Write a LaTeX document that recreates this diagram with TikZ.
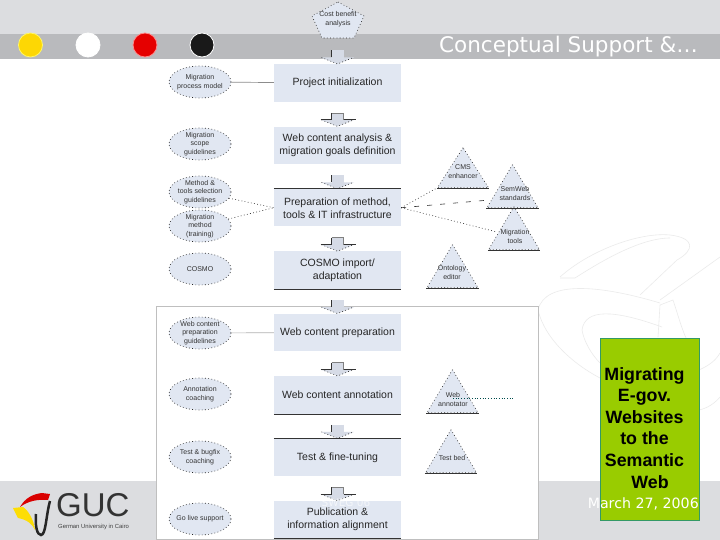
\documentclass[tikz,border=0pt]{standalone}
\usepackage{fontspec}
\setmainfont{Liberation Sans}
\newfontfamily\slidefont{DejaVu Sans}
\usetikzlibrary{arrows.meta,positioning,calc,shapes.geometric}
\definecolor{stepfill}{HTML}{E1E7F2}
\definecolor{footgray}{HTML}{DCDDE0}
\definecolor{bargray}{HTML}{B9BABD}
\definecolor{mossgreen}{HTML}{99CC00}
\definecolor{mossedge}{HTML}{339966}
\tikzset{
  stepbox/.style={fill=stepfill, align=center, minimum width=127pt, minimum height=37.5pt, inner sep=0pt, font=\fontsize{10.5}{13}\selectfont, text=black!85},
  dotborder/.style={draw=black!85, dash pattern=on .8pt off 2.4pt, line width=.6pt},
  guidebox/.style={ellipse, dotborder, fill=stepfill, align=center, minimum width=62pt, minimum height=32pt, inner sep=-6pt, font=\fontsize{7}{8.7}\selectfont, text=black!80},
  toolbox/.style={isosceles triangle, isosceles triangle stretches, shape border rotate=90, dotborder, fill=stepfill, minimum width=51pt, minimum height=43pt, inner sep=0pt, anchor=lower side},
  toolname/.style={align=center, inner sep=0pt, font=\fontsize{7}{9}\selectfont, text=black!80},
  flowarrow/.style={-{Triangle[length=6.5pt,width=33pt]}, line width=12pt, draw=stepfill!95!black},
  edgeline/.style={black!80, line width=.8pt},
  plainlink/.style={black!45, line width=.7pt},
  dotlink/.style={black!85, dash pattern=on .8pt off 2.4pt, line width=.6pt},
  dashlink/.style={black!80, dash pattern=on 5pt off 8pt, line width=.6pt},
  sundot/.style={circle, minimum size=24pt, inner sep=0pt, line width=.8pt},
  markline/.style={black!8, line width=.6pt}
}
\begin{document}
\begin{tikzpicture}[x=1pt,y=-1pt,node distance=24.5pt and 12pt]
\useasboundingbox (0,0) rectangle (720,540);
% slide background
\fill[white] (0,0) rectangle (720,540);
\draw[markline] (560,277) .. controls (590,250) and (640,232) .. (670,235) .. controls (695,238) and (695,250) .. (677,260) -- (640,295);
\draw[markline] (560,278) -- (575,278) .. controls (600,262) and (640,238) .. (670,238);
\draw[markline] (538,310) .. controls (545,280) and (600,285) .. (660,303);
\draw[markline] (538,310) .. controls (545,340) and (575,365) .. (600,378);
\draw[markline] (582,330) .. controls (585,308) and (615,310) .. (662,327);
\draw[markline] (582,330) .. controls (584,342) and (592,355) .. (600,363);
\draw[markline] (660,305) -- (658,337);
\draw[markline] (660,305) -- (673,300) .. controls (678,315) and (682,330) .. (687,340);
\draw[markline] (720,257) -- (660,300);
\draw[markline] (699,370) .. controls (710,365) and (716,360) .. (720,353);
\draw[markline] (699,410) .. controls (708,408) and (715,403) .. (720,397);
\fill[footgray] (0,0) rectangle (720,34);
\fill[bargray] (0,34) rectangle (720,59);
\fill[footgray] (0,481) rectangle (720,540);
\node[sundot, fill=yellow!75!orange, draw=yellow!60] (dota) at (30.5,45) {};
\node[sundot, fill=white, draw=white] (dotb) at (88,45) {};
\node[sundot, fill=red!90!black, draw=red!45] (dotc) at (145,45) {};
\node[sundot, fill=black!90, draw=white] (dotd) at (202,45) {};
\node[anchor=east, text=white, inner sep=0pt, font=\slidefont\fontsize{21.5}{24}\selectfont] (title) at (698,47) {Conceptual Support \&\dots};
% logo
\node[anchor=west, inner sep=0pt, font=\fontsize{33}{33}\selectfont, text=black!80] (guc) at (56,505) {GUC};
\node[anchor=west, inner sep=0pt, font=\fontsize{5.9}{7}\selectfont, text=black!75] (gucname) at (58,527) {German University in Cairo};
\fill[red!85!black] (20,507) .. controls (25,498) and (33,494) .. (42,493) -- (50,494) -- (48,500) .. controls (38,499) and (28,501) .. (20,507) -- cycle;
\fill[yellow!80!orange] (13,508) -- (23,507) .. controls (28,510) and (34,520) .. (35,530) .. controls (32,524) and (28,520) .. (18,518) -- cycle;
\draw[black!85, line width=2.5pt] (36,514) .. controls (35,526) and (37,535) .. (41,535) .. controls (46,535) and (46,515) .. (50,501);
% migration frame
\draw[black!25, fill=white, line width=.7pt] (156,306) rectangle (538,539);
% steps
\node[stepbox, anchor=north] (init) at (337.5,64) {Project initialization};
\node[stepbox, below=of init] (analysis) {Web content analysis \&\\migration goals definition};
\node[stepbox, below=of analysis] (prep) {Preparation of method,\\tools \& IT infrastructure};
\node[stepbox, below=of prep] (cosmo) {COSMO import/\\adaptation};
\node[stepbox, below=of cosmo] (webprep) {Web content preparation};
\node[stepbox, below=of webprep] (annot) {Web content annotation};
\node[stepbox, below=of annot] (fine) {Test \& fine-tuning};
\node[stepbox, below=of fine] (publish) {Publication \&\\information alignment};
\draw[dotborder, fill=stepfill] (338,2) -- (364,16) -- (354,38) -- (322,38) -- (312,16) -- cycle;
\node[align=center, inner sep=0pt, font=\fontsize{7}{8.5}\selectfont, text=black!80] (cost) at (338,19) {Cost benefit\\analysis};
% guidance
\node[guidebox] (procmodel) at (200,82) {Migration\\process model};
\node[guidebox] (scope) at (200,144) {Migration\\scope\\guidelines};
\node[guidebox] (select) at (200,192) {Method \&\\tools selection\\guidelines};
\node[guidebox] (training) at (200,226) {Migration\\method\\(training)};
\node[guidebox] (cosmoref) at (200,269) {COSMO};
\node[guidebox] (prepguide) at (200,333) {Web content\\preparation\\guidelines};
\node[guidebox] (coaching) at (200,394) {Annotation\\coaching};
\node[guidebox] (testcoach) at (200,457) {Test \& bugfix\\coaching};
\node[guidebox] (golive) at (200,519) {Go live support};
% tools
\node[toolbox, minimum height=40pt] (cms) at (463,188) {};
\node[toolbox] (semweb) at (512.5,208) {};
\node[toolbox] (migtool) at (514,250) {};
\node[toolbox] (ontology) at (452.5,288) {};
\node[toolbox] (annotator) at (452.5,413) {};
\node[toolbox] (testbed) at (451,473) {};
\node[toolname] (cmsname) at (463,172) {CMS\\enhancer};
\node[toolname] (semwebname) at (515,193.5) {SemWeb\\standards};
\node[toolname] (migtoolname) at (515,236) {Migration\\tools};
\node[toolname] (ontologyname) at (452,272) {Ontology\\editor};
\node[toolname] (annotatorname) at (453,399) {Web\\annotator};
\node[toolname] (testbedname) at (452,458) {Test bed};
\coordinate (annotend) at (513,398);
\coordinate (semwebin) at ($(semweb.lower side)+(-23,-8)$);
\coordinate (migtoolin) at ($(migtool.lower side)+(-17,-18)$);
\coordinate (annotstart) at (453,398);
% block arrows
\foreach \to in {init,analysis,prep,cosmo,webprep,annot,fine,publish}{
  \draw[flowarrow] ($(\to.north)+(0,-13.5)$) -- (\to.north);
  \draw[edgeline] ($(\to.north)+(-6,-13.5)$) -- ($(\to.north)+(-6,-6.5)$);
  \draw[dotlink] ($(\to.north)+(-16,-6.5)$) -- (\to.north) -- ($(\to.north)+(16,-6.5)$);
}
\foreach \to in {analysis,cosmo,annot,publish}{
  \draw[edgeline] ($(\to.north)+(-17,-6.5)$) -- ($(\to.north)+(-6,-6.5)$);
  \draw[black!50, line width=.6pt] ($(\to.north)+(-6,-13.5)$) -- ($(\to.north)+(6,-13.5)$) -- ($(\to.north)+(6,-6.5)$);
  \draw[edgeline] ($(\to.north)+(6,-6.5)$) -- ($(\to.north)+(18,-6.5)$);
}
\node[text=white, opacity=.6, inner sep=0pt, font=\slidefont\fontsize{10.5}{12}\selectfont] (sweg) at (346,503) {SWEG 06};
% box edges
\draw[edgeline] (prep.north west) -- (prep.north east);
\draw[edgeline] (cosmo.south west) -- (cosmo.south east);
\draw[edgeline] (annot.south west) -- (annot.south east);
\draw[edgeline] (fine.north west) -- (fine.north east);
\draw[edgeline] (publish.south west) -- (publish.south east);
\foreach \tool in {cms,semweb,migtool,ontology,annotator,testbed}
  \draw[edgeline] (\tool.left corner) -- (\tool.right corner);
% links
\draw[plainlink] (procmodel) -- (init);
\draw[plainlink, black!30] (prepguide) -- (webprep);
\draw[dotlink] (select) -- (prep.west);
\draw[dotlink] (training) -- (prep.west);
\draw[dotlink] (prep.east) -- (cms.left corner);
\draw[dashlink] (prep.east) -- (semwebin);
\draw[dotlink] (prep.east) -- (migtoolin);
\draw[dotted, teal!60!black, line width=.7pt] (annotstart) -- (annotend);
% title box
\node[draw=mossedge, fill=mossgreen, minimum width=99pt, minimum height=182pt, anchor=north west, inner sep=0pt] (titlebox) at (600,338) {};
\node[anchor=north, align=center, inner sep=0pt, font=\bfseries\fontsize{17.8}{21.6}\selectfont, text=black] (titletext) at (644.5,367) {Migrating\\E-gov.\\Websites\\to the\\Semantic\\\hspace*{11pt}Web};
\node[anchor=east, text=white, inner sep=0pt, font=\slidefont\fontsize{14.2}{16}\selectfont] (date) at (699,504) {March 27, 2006};
\end{tikzpicture}
\end{document}
